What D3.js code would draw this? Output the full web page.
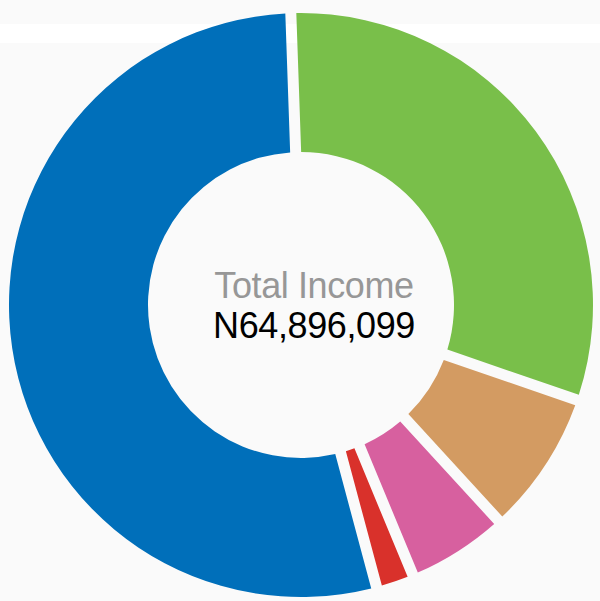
<!DOCTYPE html>
<html>
<head>
<meta charset="utf-8">
<script src="https://cdn.jsdelivr.net/npm/d3@7"></script>
<style>
  html, body { margin: 0; padding: 0; background: #fafafa; }
  svg { display: block; }
</style>
</head>
<body>
<svg id="donut" width="600" height="601"></svg>
<script>
// income sources, clockwise from the top
var categories = ["Green", "Brown", "Pink", "Red", "Blue"];
var values = [20227000, 4895000, 3316000, 993000, 35465099];
var colors = ["#79bf4a", "#d39b62", "#d7609f", "#d9312b", "#006fba"];
var centerTitle = "Total Income";
var centerValue = "N64,896,099";

var svg = d3.select("svg#donut"),
    width = +svg.attr("width"),
    height = +svg.attr("height"),
    cx = 301,
    cy = 305,
    outer = 292,
    inner = 153,
    gap = 11;

// white band behind the chart
svg.append("rect")
    .attr("x", 0)
    .attr("y", 24)
    .attr("width", width)
    .attr("height", 19)
    .attr("fill", "#ffffff");

var data = categories.map((c, i) => ({ name: c, value: values[i], color: colors[i] }));

var start = -2 * Math.PI / 180;

var pie = d3.pie()
    .sort(null)
    .value(d => d.value)
    .startAngle(start)
    .endAngle(start + 2 * Math.PI)
    .padAngle(gap / outer);

var arc = d3.arc()
    .innerRadius(inner)
    .outerRadius(outer)
    .padRadius(outer);

var g = svg.append("g")
    .attr("transform", "translate(" + cx + ", " + cy + ")");

g.selectAll(".slice")
    .data(pie(data))
    .enter()
    .append("path")
    .attr("class", "slice")
    .attr("d", arc)
    .style("fill", d => d.data.color);

g.append("text")
    .attr("x", 13)
    .attr("y", -7)
    .style("text-anchor", "middle")
    .style("font-family", "'Liberation Sans', Arial, sans-serif")
    .style("font-size", "36px")
    .style("letter-spacing", "-0.4px")
    .style("fill", "#979797")
    .text(centerTitle);

g.append("text")
    .attr("x", 13)
    .attr("y", 33)
    .style("text-anchor", "middle")
    .style("font-family", "'Liberation Sans', Arial, sans-serif")
    .style("font-size", "36px")
    .style("letter-spacing", "-0.4px")
    .style("fill", "#000000")
    .text(centerValue);
</script>
</body>
</html>
